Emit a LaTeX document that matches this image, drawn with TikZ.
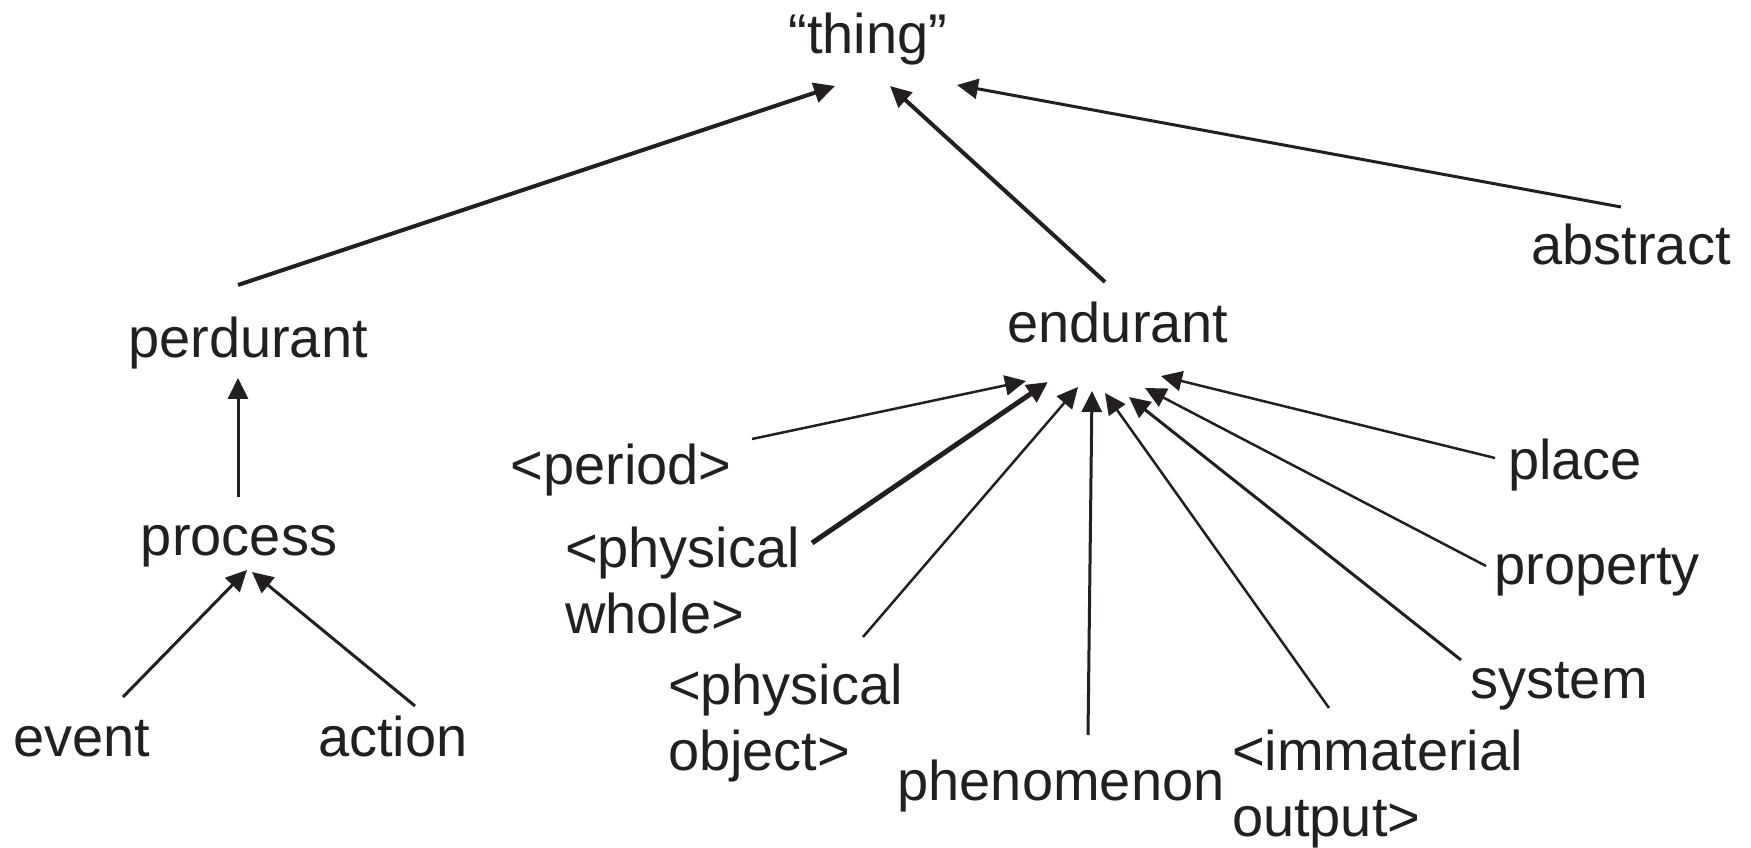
\documentclass[tikz,border=0pt]{standalone}
\usepackage{fontspec}
\setmainfont{Liberation Sans}
\usetikzlibrary{arrows.meta}
\definecolor{ink}{RGB}{35,31,32}
\begin{document}
\begin{tikzpicture}[x=1pt,y=1pt,
  lbl/.style={inner sep=0pt, outer sep=0pt, text=ink, font=\fontsize{56}{66}\selectfont},
  link/.style={draw=ink, line width=3pt, -{Triangle[length=21pt,width=20pt]}},
  heavy/.style={link, line width=4pt},
  light/.style={link, line width=2.5pt}]
\useasboundingbox (0,0) rectangle (1751,848);

% labels
\node[lbl, anchor=base] (thing) at (868,794) {“thing”};
\node[lbl, anchor=base] (per) at (248,490) {perdurant};
\node[lbl, anchor=base] (proc) at (239,292) {process};
\node[lbl, anchor=base] (event) at (82,91) {event};
\node[lbl, anchor=base] (action) at (393,91) {action};
\node[lbl, anchor=base] (endur) at (1118,505) {endurant};
\node[lbl, anchor=base] (abstr) at (1631,583) {abstract};
\node[lbl, anchor=base] (period) at (621,363) {<period>};
\node[lbl, anchor=base west] (whole) at (565,280)
  {\begin{tabular}[t]{@{}l@{}}<physical\\whole>\end{tabular}};
\node[lbl, anchor=base west] (object) at (668,143)
  {\begin{tabular}[t]{@{}l@{}}<physical\\object>\end{tabular}};
\node[lbl, anchor=base] (phen) at (1061,47) {phenomenon};
\node[lbl, anchor=base west] (immat) at (1232,77)
  {\begin{tabular}[t]{@{}l@{}}<immaterial\\output>\end{tabular}};
\node[lbl, anchor=base] (system) at (1559,149) {system};
\node[lbl, anchor=base] (prop) at (1597,263) {property};
\node[lbl, anchor=base] (place) at (1575,368) {place};

% top level
\draw[heavy] ([xshift=-10pt,yshift=73pt]per.base) -- ([xshift=-33pt,yshift=-32pt]thing.base);
\draw[heavy] ([xshift=-13pt,yshift=61pt]endur.base) -- ([xshift=22pt,yshift=-32pt]thing.base);
\draw[link] ([xshift=-10pt,yshift=58pt]abstr.base) -- ([xshift=89pt,yshift=-31pt]thing.base);

% perdurant branch
\draw[link] ([xshift=-1pt,yshift=59pt]proc.base) -- ([xshift=-10pt,yshift=-20pt]per.base);
\draw[link] ([xshift=41pt,yshift=60pt]event.base) -- ([xshift=8pt,yshift=-14pt]proc.base);
\draw[link] ([xshift=22pt,yshift=51pt]action.base) -- ([xshift=13pt,yshift=-16pt]proc.base);

% endurant branch
\draw[light] ([xshift=131pt,yshift=46pt]period.base) -- ([xshift=-92pt,yshift=-38pt]endur.base);
\draw[link, line width=5pt] ([xshift=247pt,yshift=25pt]whole.base west) -- ([xshift=-70pt,yshift=-39pt]endur.base);
\draw[light] ([xshift=195pt,yshift=68pt]object.base west) -- ([xshift=-40pt,yshift=-44pt]endur.base);
\draw[link] ([xshift=27pt,yshift=66pt]phen.base) -- ([xshift=-26pt,yshift=-48pt]endur.base);
\draw[light] ([xshift=97pt,yshift=63pt]immat.base west) -- ([xshift=-13pt,yshift=-50pt]endur.base);
\draw[link] ([xshift=-98pt,yshift=39pt]system.base) -- ([xshift=11pt,yshift=-54pt]endur.base);
\draw[light] ([xshift=-111pt,yshift=19pt]prop.base) -- ([xshift=27pt,yshift=-45pt]endur.base);
\draw[light] ([xshift=-80pt,yshift=22pt]place.base) -- ([xshift=43pt,yshift=-33pt]endur.base);
\end{tikzpicture}
\end{document}
